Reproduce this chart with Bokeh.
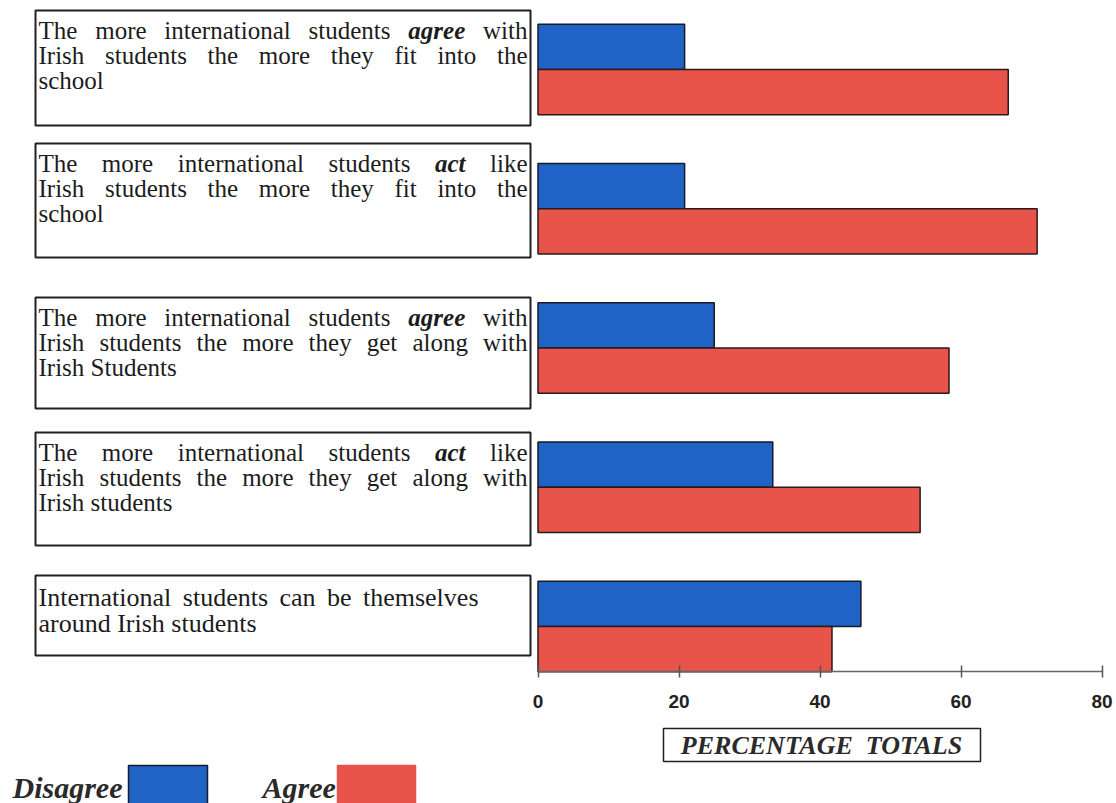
import numpy as np
from bokeh.plotting import figure
from bokeh.models import Range1d, LinearAxis, FixedTicker
from bokeh.core.properties import value
from bokeh.embed import file_html
from bokeh.resources import INLINE

# ---- data -------------------------------------------------------------
statements = [
    ["The more international students *agree* with",
     "Irish students the more they fit into the",
     "school"],
    ["The more international students *act* like",
     "Irish students the more they fit into the",
     "school"],
    ["The more international students *agree* with",
     "Irish students the more they get along with",
     "Irish Students"],
    ["The more international students *act* like",
     "Irish students the more they get along with",
     "Irish students"],
    ["International students can be themselves",
     "around Irish students"],
]
disagree = [20.8, 20.8, 25.0, 33.3, 45.8]
agree = [66.7, 70.8, 58.3, 54.2, 41.7]
x_ticks = [0, 20, 40, 60, 80]
series_names = ["Disagree", "Agree"]
axis_title = "PERCENTAGE\u00a0 TOTALS"

# ---- styling ----------------------------------------------------------
BLUE = "#1f63c6"
RED = "#e8534a"
INK = "#1c1c1c"
SERIF = "Liberation Serif"
SANS = "Liberation Sans"

W, H = 1116, 803
X0_PX, X_SCALE = 537.5, 7.05      # pixel of value 0, pixels per percent
Y0_PX, Y_SCALE = 626.0, 139.25    # pixel of lowest group centre, pixels per group
BAR_H = 0.325


def dx(px):
    return (px - X0_PX) / X_SCALE


def dy(py):
    return (Y0_PX - py) / Y_SCALE


# Times-compatible advance widths (per 1000 em) used to justify text lines
_REG = dict(zip("abcdefghijklmnopqrstuvwxyz",
                [444, 500, 444, 500, 444, 333, 500, 500, 278, 278, 500, 278, 778,
                 500, 500, 500, 500, 333, 389, 278, 500, 500, 722, 500, 500, 444]))
_REG.update(zip("ABCDEFGHIJKLMNOPQRSTUVWXYZ",
                [722, 667, 667, 722, 611, 556, 722, 722, 333, 389, 722, 611, 889,
                 722, 722, 556, 722, 667, 556, 611, 722, 722, 944, 722, 722, 611]))
_REG[" "] = 250
_BI = dict(zip("abcdefghijklmnopqrstuvwxyz",
               [500, 500, 444, 500, 444, 333, 500, 556, 278, 278, 500, 278, 778,
                556, 500, 500, 500, 389, 389, 278, 556, 444, 667, 500, 444, 389]))


def word_width(word, size, emph):
    table = _BI if emph else _REG
    return sum(table.get(c, _REG.get(c, 500)) for c in word) * size / 1000.0


n = len(statements)
ypos = np.arange(n)[::-1].astype(float)   # top statement drawn highest

p = figure(width=W, height=H,
           x_range=Range1d(dx(0), dx(W)), y_range=Range1d(dy(H), dy(0)),
           output_backend="svg", toolbar_location=None,
           x_axis_location=None, y_axis_location=None, min_border=0)
p.outline_line_color = None
p.background_fill_color = "white"
p.border_fill_color = "white"
p.grid.visible = False

# ---- bars -------------------------------------------------------------
p.hbar(y=ypos + BAR_H / 2, left=0, right=disagree, height=BAR_H,
       fill_color=BLUE, line_color="#1a1a2a", line_width=1.5)
p.hbar(y=ypos - BAR_H / 2, left=0, right=agree, height=BAR_H,
       fill_color=RED, line_color="#2a1a1a", line_width=1.5)

# ---- x axis -----------------------------------------------------------
xaxis = LinearAxis(ticker=FixedTicker(ticks=x_ticks), bounds=(x_ticks[0], x_ticks[-1]),
                   fixed_location=-BAR_H)
xaxis.axis_line_color = "#666666"
xaxis.axis_line_width = 1.5
xaxis.major_tick_line_color = "#555555"
xaxis.major_tick_line_width = 1.5
xaxis.major_tick_in = 6
xaxis.major_tick_out = 6
xaxis.minor_tick_line_color = None
xaxis.major_label_text_font = SANS
xaxis.major_label_text_font_style = "bold"
xaxis.major_label_text_font_size = "19px"
xaxis.major_label_text_color = "#222222"
xaxis.major_label_standoff = 17
p.add_layout(xaxis, "below")

# ---- statement boxes --------------------------------------------------
BOX_L, BOX_R = 35, 530
TEXT_L = 38
FULL = 489
box_tops = [10, 143, 297, 432, 575]
box_bottoms = [125, 257, 408, 545, 655]
first_base = [30, 163, 317, 452, 597]
line_step = [25, 25, 25, 25, 26]
font_px = [25, 25, 25, 25, 26]
line_spans = [[FULL, FULL, None], [FULL, FULL, None], [FULL, FULL, None],
              [FULL, FULL, None], [440, None]]

p.quad(left=[dx(BOX_L)] * n, right=[dx(BOX_R)] * n,
       top=[dy(t) for t in box_tops], bottom=[dy(b) for b in box_bottoms],
       fill_color="white", line_color="#202020", line_width=2)

groups = {}
for i, lines in enumerate(statements):
    fs = font_px[i]
    for j, line in enumerate(lines):
        base = first_base[i] + j * line_step[i]
        words = line.split(" ")
        emph = [w.startswith("*") for w in words]
        words = [w.strip("*") for w in words]
        widths = [word_width(w, fs, e) for w, e in zip(words, emph)]
        span = line_spans[i][j]
        if span is None or len(words) < 2:
            gap = _REG[" "] * fs / 1000.0
        else:
            gap = (span - sum(widths)) / (len(words) - 1)
        x = TEXT_L
        for k, (w, e, ww) in enumerate(zip(words, emph, widths)):
            last = span is not None and k == len(words) - 1 and len(words) > 1
            key = (fs, e, "right" if last else "left")
            g = groups.setdefault(key, {"x": [], "y": [], "t": []})
            g["x"].append(dx(TEXT_L + span) if last else dx(x))
            g["y"].append(dy(base))
            g["t"].append(w)
            x += ww + gap

for (fs, e, align), g in groups.items():
    p.text(x=g["x"], y=g["y"], text=g["t"],
           text_font=value(SERIF), text_font_size=value(f"{fs}px"),
           text_font_style=value("bold italic" if e else "normal"),
           text_align=value(align), text_baseline=value("alphabetic"),
           text_color=INK)

# ---- axis title box ---------------------------------------------------
p.quad(left=[dx(663)], right=[dx(980)], top=[dy(728)], bottom=[dy(761)],
       fill_color="white", line_color="#202020", line_width=1.5)
p.text(x=[dx(821)], y=[dy(745)], text=[axis_title],
       text_font=value(SERIF), text_font_size=value("26px"),
       text_font_style=value("bold italic"), text_align=value("center"),
       text_baseline=value("middle"), text_color="#2a2a2a")

# ---- legend -----------------------------------------------------------
p.text(x=[dx(12), dx(262)], y=[dy(787), dy(787)], text=series_names,
       text_font=value(SERIF), text_font_size=value("30px"),
       text_font_style=value("bold italic"), text_align=value("left"),
       text_baseline=value("alphabetic"), text_color="#2a2a2a")
p.quad(left=[dx(128), dx(337)], right=[dx(207), dx(415)],
       top=[dy(765), dy(765)], bottom=[dy(806), dy(806)],
       fill_color=[BLUE, RED], line_color=["#1a1a2a", RED], line_width=1.5)

open("out.html", "w").write(file_html(p, INLINE))
